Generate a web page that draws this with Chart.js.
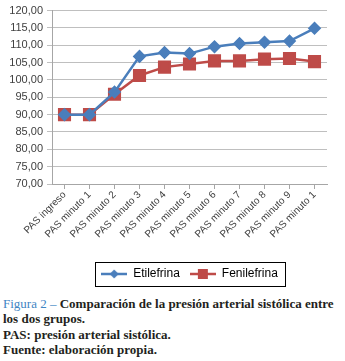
<!DOCTYPE html>
<html>
<head>
<meta charset="utf-8">
<script src="https://cdn.jsdelivr.net/npm/chart.js@4"></script>
<style>
  body { margin: 0; background: #fff; }
  #wrap { width: 345px; height: 296px; position: absolute; left: 0; top: 0; }
  .caption {
    position: absolute;
    left: 3px; top: 296px;
    font-family: "Liberation Serif", serif;
    font-weight: bold;
    font-size: 13px;
    line-height: 15.3px;
    color: #231f20;
    white-space: nowrap;
  }
  .caption .fig { color: #3f86c4; font-weight: normal; }
</style>
</head>
<body>
<div id="wrap"><canvas id="pasChart"></canvas></div>
<div class="caption">
  <span class="fig">Figura 2 –</span> Comparación de la presión arterial sistólica entre<br>
  los dos grupos.<br>
  PAS: presión arterial sistólica.<br>
  Fuente: elaboración propia.
</div>
<script>
const categories = ['PAS ingreso', 'PAS minuto 1', 'PAS minuto 2', 'PAS minuto 3', 'PAS minuto 4',
  'PAS minuto 5', 'PAS minuto 6', 'PAS minuto 7', 'PAS minuto 8', 'PAS minuto 9', 'PAS minuto 1'];
const etilefrina = [90, 90, 96.5, 106.8, 107.9, 107.6, 109.6, 110.5, 110.9, 111.2, 114.9];
const fenilefrina = [90, 90, 95.9, 101.3, 103.7, 104.6, 105.5, 105.5, 106.0, 106.2, 105.3];
const yTicks = [70, 75, 80, 85, 90, 95, 100, 105, 110, 115, 120];

const blue = '#4a7ebb';
const red = '#be4b48';

// legend swatch: line with the marker in the middle
function swatch(color, style) {
  const c = document.createElement('canvas');
  c.width = 26; c.height = 12;
  const g = c.getContext('2d');
  g.strokeStyle = color; g.fillStyle = color; g.lineWidth = 2.5;
  g.beginPath(); g.moveTo(0, 6); g.lineTo(26, 6); g.stroke();
  g.beginPath();
  if (style === 'rect') {
    g.fillRect(8, 1, 10, 10);
  } else {
    g.moveTo(13, 1.5); g.lineTo(17.5, 6); g.lineTo(13, 10.5); g.lineTo(8.5, 6); g.closePath(); g.fill();
  }
  return c;
}

const legendBox = {
  id: 'legendBox',
  afterDraw(chart) {
    const l = chart.legend;
    const ctx = chart.ctx;
    const w = 190, h = 24;
    const x = Math.round((l.left + l.right) / 2 - w / 2) + 0.5;
    const y = Math.round((l.top + l.bottom) / 2 - h / 2) + 0.5;
    ctx.save();
    ctx.strokeStyle = '#000';
    ctx.lineWidth = 1;
    ctx.strokeRect(x, y, w, h);
    ctx.restore();
  }
};

const ctx = document.getElementById('pasChart').getContext('2d');
new Chart(ctx, {
  type: 'line',
  data: {
    labels: categories,
    datasets: [
      {
        label: 'Etilefrina',
        data: etilefrina,
        borderColor: blue,
        backgroundColor: blue,
        borderWidth: 2.5,
        pointStyle: 'rectRot',
        pointRadius: 5,
        pointHoverRadius: 5
      },
      {
        label: 'Fenilefrina',
        data: fenilefrina,
        borderColor: red,
        backgroundColor: red,
        borderWidth: 2.5,
        pointStyle: 'rect',
        pointRadius: 7.5,
        pointHoverRadius: 7.5
      }
    ]
  },
  options: {
    responsive: true,
    maintainAspectRatio: false,
    animation: false,
    layout: { padding: { top: 2, right: 18, left: 0, bottom: 6 } },
    scales: {
      x: {
        offset: true,
        afterFit: axis => { axis.height = 74; },
        grid: { drawOnChartArea: false, drawTicks: true, tickLength: 5, color: '#a6a6a6' },
        border: { color: '#a6a6a6' },
        ticks: {
          maxRotation: 45, minRotation: 45, autoSkip: false,
          color: '#404040', font: { family: 'Liberation Sans, Arial', size: 10 }, padding: 0
        }
      },
      y: {
        min: 70, max: 120,
        afterFit: axis => { axis.width = 52; },
        afterBuildTicks: axis => { axis.ticks = yTicks.map(v => ({ value: v })); },
        grid: { color: '#bfbfbf', tickLength: 5 },
        border: { color: '#a6a6a6' },
        ticks: {
          color: '#404040', font: { family: 'Liberation Sans, Arial', size: 11 }, padding: 4,
          callback: v => v.toFixed(2).replace('.', ',')
        }
      }
    },
    plugins: {
      tooltip: { enabled: false },
      legend: {
        position: 'bottom',
        fullSize: false,
        labels: {
          usePointStyle: true,
          pointStyleWidth: 26,
          color: '#000',
          font: { family: 'Liberation Sans, Arial', size: 12 },
          padding: 10,
          generateLabels: chart => chart.data.datasets.map((ds, i) => ({
            text: ds.label,
            pointStyle: swatch(ds.borderColor, ds.pointStyle),
            fillStyle: ds.borderColor,
            strokeStyle: ds.borderColor,
            lineWidth: 0,
            datasetIndex: i,
            hidden: false
          }))
        }
      }
    }
  },
  plugins: [legendBox]
});
</script>
</body>
</html>
